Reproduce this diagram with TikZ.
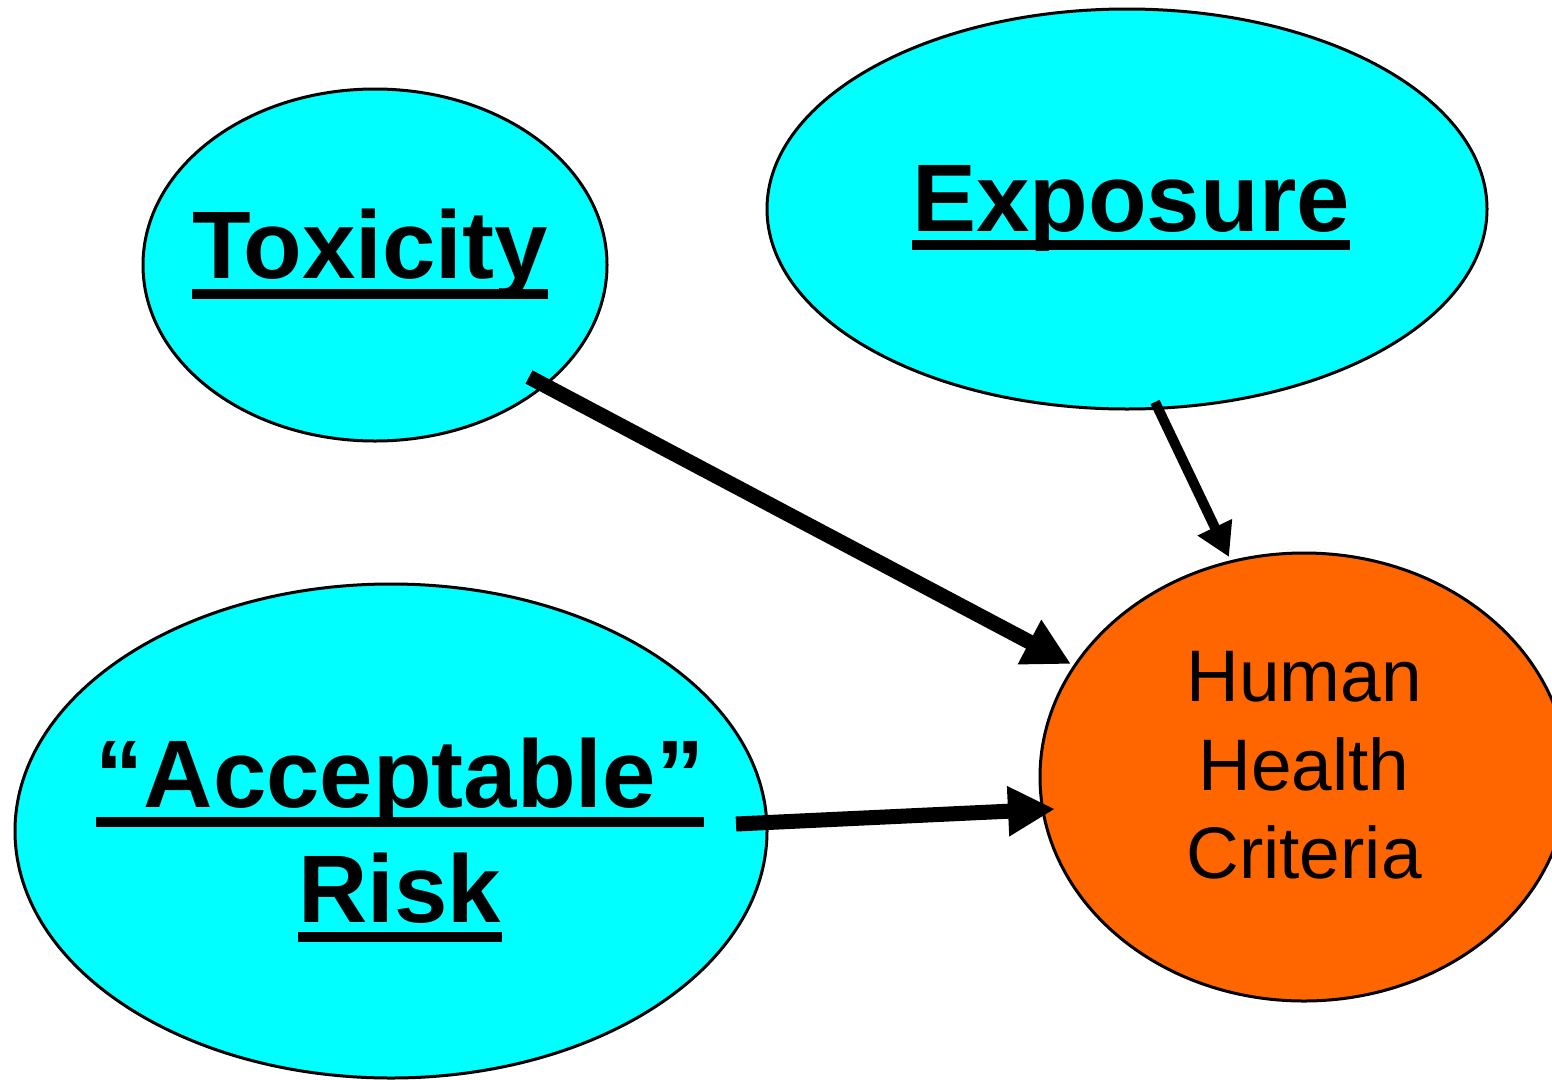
\documentclass[tikz,border=0pt]{standalone}
\usepackage{fontspec}
\setmainfont{Liberation Sans}
\usetikzlibrary{shapes.geometric,arrows.meta,calc}
\definecolor{bubble}{HTML}{00FFFF}
\definecolor{target}{HTML}{FF6600}
\begin{document}
\begin{tikzpicture}[x=1pt,y=-1pt,
  oval/.style={ellipse, draw=black, line width=3pt, inner sep=0pt},
  title/.style={inner sep=0pt, anchor=base, font=\fontsize{96}{115}\selectfont\bfseries},
  plain/.style={inner sep=0pt, anchor=base, font=\fontsize{73}{88}\selectfont},
  uline/.style={line width=10pt},
  link/.style={line width=15pt, -{Triangle[length=47pt,width=47pt]}},
  thinlink/.style={line width=10pt, -{Triangle[length=33pt,width=36pt]}},
]
\path[use as bounding box, clip] (0,0) rectangle (1552,1079);
\fill[white] (0,0) rectangle (1552,1079);
% ellipses
\node[oval, fill=bubble, minimum width=464pt, minimum height=352pt] (tox) at (375,265) {};
\node[oval, fill=bubble, minimum width=720pt, minimum height=400pt] (exp) at (1127,209) {};
\node[oval, fill=bubble, minimum width=752pt, minimum height=494pt] (acc) at (391,831) {};
\node[oval, fill=target, minimum width=528pt, minimum height=448pt] (hhc) at (1304,777) {};
% titles
\node[title] (toxt) at (370,278) {Toxicity};
\draw[uline] ($(toxt.base west)+(0,16)$) -- ($(toxt.base east)+(0,16)$);
\node[title] (expt) at (1131,231) {Exposure};
\draw[uline] ($(expt.base west)+(0,14)$) -- ($(expt.base east)+(0,14)$);
\node[title] (acct) at (400,807) {“Acceptable”};
\draw[uline] ($(acct.base west)+(0,15)$) -- ($(acct.base east)+(0,15)$);
\node[title] (riskt) at (400,922) {Risk};
\draw[uline] ($(riskt.base west)+(0,15)$) -- ($(riskt.base east)+(0,15)$);
\node[plain] (hhc1) at (1304,701) {Human};
\node[plain] (hhc2) at (1304,790) {Health};
\node[plain] (hhc3) at (1304,878) {Criteria};
% connectors
\draw[link] ($(tox.center)+(154,112)$) -- ($(hhc.center)+(-233,-113)$);
\draw[thinlink] ($(exp.center)+(28,193)$) -- ($(hhc.center)+(-75,-220)$);
\draw[link] ($(acc.center)+(345,-7)$) -- ($(hhc.center)+(-249,32)$);
\end{tikzpicture}
\end{document}
